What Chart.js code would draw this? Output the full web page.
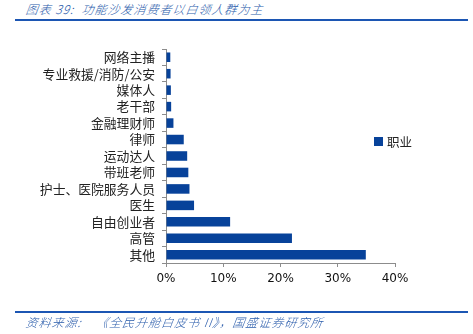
<!DOCTYPE html>
<html>
<head>
<meta charset="utf-8">
<script src="https://cdn.jsdelivr.net/npm/chart.js@4.4.1/dist/chart.umd.min.js"></script>
<style>
  html, body { margin: 0; padding: 0; background: #fff; }
  body { width: 473px; height: 334px; position: relative; overflow: hidden; }
  #chart { position: absolute; left: 0; top: 0; }
  .caption {
    position: absolute;
    left: 26px;
    font-family: "Noto Sans CJK SC", sans-serif;
    font-style: italic;
    font-weight: 300;
    font-size: 12px;
    letter-spacing: 1px;
    color: #2a5cab;
    white-space: nowrap;
    transform: skewX(-8deg);
  }
  .rule { position: absolute; left: 15px; width: 453px; height: 2px; background: #1c56b3; }
</style>
</head>
<body>
<div class="caption" style="top:0px;">图表 39:&nbsp; 功能沙发消费者以白领人群为主</div>
<div class="rule" style="top:19px;"></div>
<canvas id="chart" width="473" height="334"></canvas>
<div class="rule" style="top:311px;"></div>
<div class="caption" style="top:313px;">资料来源:&nbsp;&nbsp;&nbsp; 《全民升舱白皮书 II》，国盛证券研究所</div>
<script>
// Occupation groups, top to bottom
const occupations = [
  "网络主播",
  "专业救援/消防/公安",
  "媒体人",
  "老干部",
  "金融理财师",
  "律师",
  "运动达人",
  "带班老师",
  "护士、医院服务人员",
  "医生",
  "自由创业者",
  "高管",
  "其他",
];
// Share of buyers, %
const shares = [0.75, 0.8, 0.85, 0.9, 1.3, 3.1, 3.7, 3.9, 4.1, 4.9, 11.2, 22.0, 34.9];
const seriesName = "职业";
const xTicks = [0, 10, 20, 30, 40];

const barColor = "#07429a";
const axisColor = "#8c8c8c";

// Legend box drawn beside the bars
const sideLegend = {
  id: "sideLegend",
  afterDraw: function (chart) {
    const ctx = chart.ctx;
    const area = chart.chartArea;
    const ds = chart.data.datasets[0];
    const x = area.right - 21;
    const y = area.top + 88;
    ctx.save();
    ctx.fillStyle = ds.backgroundColor;
    ctx.fillRect(x, y, 9, 9);
    ctx.fillStyle = "#222";
    ctx.font = '12.5px "Noto Sans CJK SC"';
    ctx.textBaseline = "middle";
    ctx.fillText(ds.label, x + 13, y + 5);
    ctx.restore();
  },
};

const ctx = document.getElementById("chart").getContext("2d");
const chart = new Chart(ctx, {
  type: "bar",
  data: {
    labels: occupations,
    datasets: [
      {
        label: seriesName,
        data: shares,
        backgroundColor: barColor,
        borderWidth: 0,
        barPercentage: 0.58,
        categoryPercentage: 1,
      },
    ],
  },
  options: {
    indexAxis: "y",
    responsive: false,
    animation: false,
    layout: {
      padding: { left: 0, top: 49, right: 78, bottom: 41 },
    },
    plugins: {
      legend: { display: false },
      tooltip: { enabled: false },
    },
    scales: {
      x: {
        min: 0,
        max: 40,
        afterBuildTicks: function (scale) {
          scale.ticks = xTicks.map(function (v) { return { value: v }; });
        },
        afterFit: function (scale) {
          scale.height = 30;
        },
        grid: {
          drawOnChartArea: false,
          drawTicks: true,
          tickLength: 4,
          color: axisColor,
        },
        border: { display: true, color: axisColor },
        ticks: {
          padding: 5,
          color: "#111",
          font: { family: "DejaVu Sans", size: 12 },
          callback: function (value) {
            return value + "%";
          },
        },
      },
      y: {
        afterFit: function (scale) {
          scale.width = 166;
        },
        grid: {
          offset: true,
          drawOnChartArea: false,
          drawTicks: true,
          tickLength: 4,
          color: axisColor,
        },
        border: { display: true, color: axisColor },
        ticks: {
          padding: 7,
          autoSkip: false,
          color: "#222",
          font: { family: "Noto Sans CJK SC", size: 12.8 },
        },
      },
    },
  },
  plugins: [sideLegend],
});
</script>
</body>
</html>
